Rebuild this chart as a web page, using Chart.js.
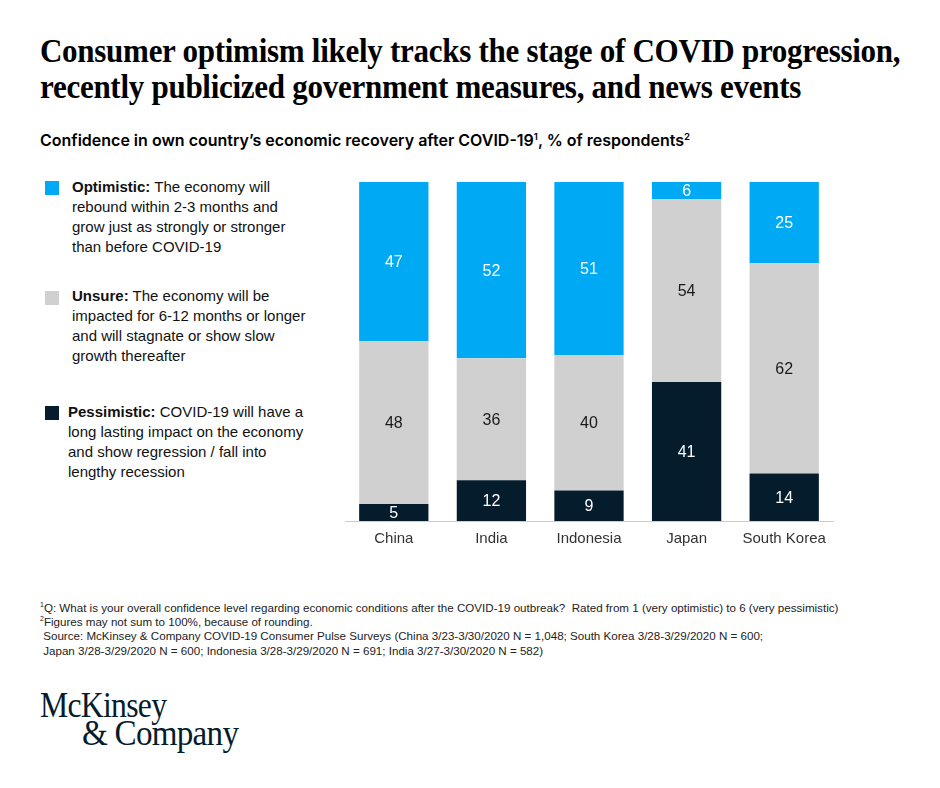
<!DOCTYPE html>
<html>
<head>
<meta charset="utf-8">
<script src="https://cdn.jsdelivr.net/npm/chart.js@4.4.1/dist/chart.umd.min.js"></script>
<style>
  html, body { margin: 0; padding: 0; background: #fff; }
  body { width: 940px; height: 788px; position: relative; overflow: hidden; font-family: "Liberation Sans", Arial, sans-serif; color: #051c2c; }
  .title { position: absolute; left: 40px; top: 33px; font-family: "Liberation Serif", serif; font-weight: bold; font-size: 33px; line-height: 36px; color: #000; white-space: nowrap; transform-origin: left top; transform: scaleX(0.94); letter-spacing: -0.3px; }
  .subtitle { position: absolute; left: 40px; top: 130px; font-family: Inter, sans-serif; font-weight: 600; font-size: 16px; color: #000; white-space: nowrap; }
  .subtitle sup, .foot sup { font-size: 60%; vertical-align: super; line-height: 0; }
  .leg { position: absolute; font-size: 15px; line-height: 20px; color: #111; white-space: nowrap; }
  .leg b { font-weight: bold; }
  .sw { position: absolute; width: 14px; height: 14px; }
  .foot { position: absolute; left: 40px; top: 601px; font-size: 11.6px; line-height: 14.2px; color: #222; white-space: nowrap; }
  .logo { position: absolute; font-family: "Liberation Serif", serif; font-size: 36px; line-height: 36px; color: #051c2c; white-space: nowrap; transform-origin: left top; letter-spacing: -0.8px; }
  #wrap { position: absolute; left: 335px; top: 168px; width: 508px; height: 390px; }
</style>
</head>
<body>
<div class="title">Consumer optimism likely tracks the stage of COVID progression,<br>recently publicized government measures, and news events</div>
<div class="subtitle">Confidence in own country’s economic recovery after COVID-19<sup>1</sup>, % of respondents<sup>2</sup></div>

<div class="sw" style="left:45px; top:181px; background:#00a9f4"></div>
<div class="leg" style="left:72px; top:177px"><b>Optimistic:</b> The economy will<br>rebound within 2-3 months and<br>grow just as strongly or stronger<br>than before COVID-19</div>

<div class="sw" style="left:45px; top:291px; background:#d0d0d0"></div>
<div class="leg" style="left:72px; top:286px"><b>Unsure:</b> The economy will be<br>impacted for 6-12 months or longer<br>and will stagnate or show slow<br>growth thereafter</div>

<div class="sw" style="left:45px; top:406px; background:#051c2c"></div>
<div class="leg" style="left:68px; top:402px"><b>Pessimistic:</b> COVID-19 will have a<br>long lasting impact on the economy<br>and show regression / fall into<br>lengthy recession</div>

<div id="wrap"><canvas id="chart"></canvas></div>

<div class="foot"><sup>1</sup>Q: What is your overall confidence level regarding economic conditions after the COVID-19 outbreak?&nbsp; Rated from 1 (very optimistic) to 6 (very pessimistic)<br><sup>2</sup>Figures may not sum to 100%, because of rounding.<br>&nbsp;Source: McKinsey &amp; Company COVID-19 Consumer Pulse Surveys (China 3/23-3/30/2020 N = 1,048; South Korea 3/28-3/29/2020 N = 600;<br>&nbsp;Japan 3/28-3/29/2020 N = 600; Indonesia 3/28-3/29/2020 N = 691; India 3/27-3/30/2020 N = 582)</div>

<div class="logo" style="left:40px; top:687px; transform: scaleX(0.88)">McKinsey</div>
<div class="logo" style="left:82px; top:715px; transform: scaleX(0.92)">&amp; Company</div>

<script>
const categories = ['China', 'India', 'Indonesia', 'Japan', 'South Korea'];
const pessimistic = [5, 12, 9, 41, 14];
const unsure = [48, 36, 40, 54, 62];
const optimistic = [47, 52, 51, 6, 25];

// value labels centred in the visible part of each segment
const segmentLabels = {
    id: 'segmentLabels',
    afterDatasetsDraw(chart) {
        const ctx = chart.ctx;
        const area = chart.chartArea;
        ctx.save();
        ctx.font = '16px "Liberation Sans", Arial, sans-serif';
        ctx.textAlign = 'center';
        ctx.textBaseline = 'middle';
        chart.data.datasets.forEach((ds, i) => {
            const meta = chart.getDatasetMeta(i);
            meta.data.forEach((bar, j) => {
                const top = Math.max(Math.min(bar.y, bar.base), area.top);
                const bottom = Math.min(Math.max(bar.y, bar.base), area.bottom);
                ctx.fillStyle = ds.labelColor;
                ctx.fillText(ds.data[j], bar.x, (top + bottom) / 2 + 1);
            });
        });
        ctx.restore();
    }
};

new Chart(document.getElementById('chart'), {
    type: 'bar',
    data: {
        labels: categories,
        datasets: [
            { label: 'Pessimistic', data: pessimistic, backgroundColor: '#051c2c', labelColor: '#ffffff' },
            { label: 'Unsure', data: unsure, backgroundColor: '#d0d0d0', labelColor: '#1a1a1a' },
            { label: 'Optimistic', data: optimistic, backgroundColor: '#00a9f4', labelColor: '#ffffff' }
        ]
    },
    options: {
        responsive: true,
        maintainAspectRatio: false,
        animation: false,
        layout: { padding: { left: 10, right: 10, top: 14, bottom: 9 } },
        datasets: { bar: { barPercentage: 0.71, categoryPercentage: 1 } },
        plugins: { legend: { display: false }, tooltip: { enabled: false } },
        scales: {
            x: {
                stacked: true,
                grid: { display: false },
                border: { display: true, color: '#cccccc', width: 1 },
                ticks: { color: '#333', padding: 1, font: { family: '"Liberation Sans", Arial, sans-serif', size: 15 } }
            },
            y: {
                stacked: true,
                display: false,
                min: 0,
                max: 100
            }
        }
    },
    plugins: [segmentLabels]
});
</script>
</body>
</html>
